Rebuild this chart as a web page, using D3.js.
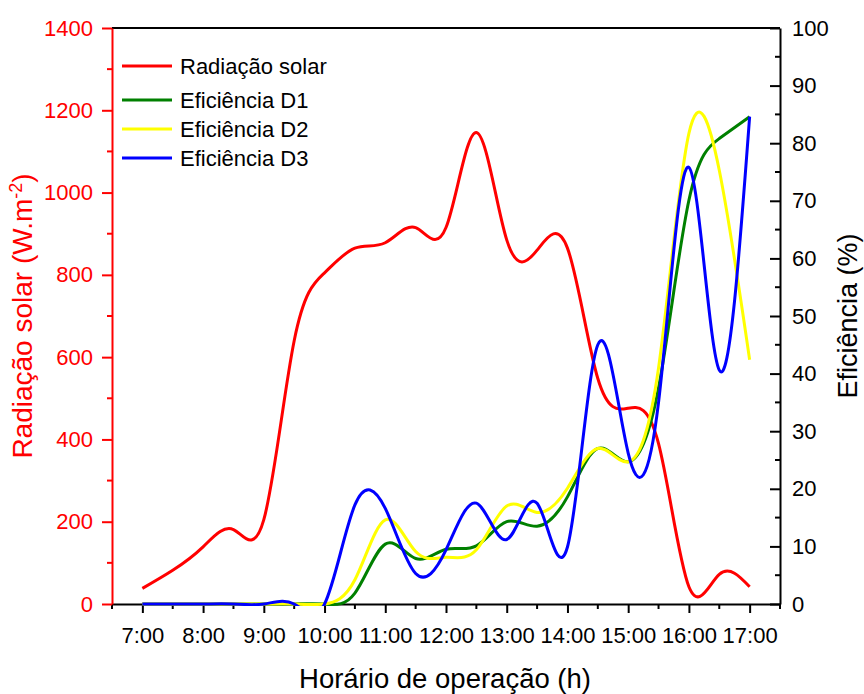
<!DOCTYPE html>
<html>
<head>
<meta charset="utf-8">
<script src="https://cdn.jsdelivr.net/npm/d3@7"></script>
<style>
  html, body { margin: 0; padding: 0; background: #fff; }
  svg { display: block; font-family: "Liberation Sans", Arial, sans-serif; }
</style>
</head>
<body>
<svg id="chart" width="864" height="694"></svg>
<script>
// Sampling times (hours) and their labels
const hours = [7, 7.5, 8, 8.5, 9, 9.5, 10, 10.5, 11, 11.5, 12, 12.5, 13, 13.5, 14, 14.5, 15, 15.5, 16, 16.5, 17];
const hourTicks = [7, 8, 9, 10, 11, 12, 13, 14, 15, 16, 17];
const hourTickLabels = ["7:00", "8:00", "9:00", "10:00", "11:00", "12:00", "13:00", "14:00", "15:00", "16:00", "17:00"];

// Solar radiation (W.m-2)
const radiacao = [38, 82, 139, 181, 205, 640, 805, 865, 878, 915, 915, 1146, 885, 860, 865, 548, 476, 390, 42, 72, 42];

// Efficiencies (%)
const eficienciaD1 = [0, 0, 0, 0, 0, 0, 0, 1.9, 10.4, 7.9, 9.5, 10.1, 14.3, 13.5, 18.6, 27.0, 24.7, 37.5, 70.1, 80.8, 84.6];
const eficienciaD2 = [0, 0, 0, 0, 0, 0, 0, 4.2, 14.6, 9.1, 8.1, 9.4, 17.0, 15.9, 20.1, 27.0, 24.7, 41.0, 81.7, 75.3, 42.4];
const eficienciaD3 = [0, 0, 0, 0, 0, 0, 0, 17.2, 16.6, 5.3, 9.4, 17.5, 11.2, 17.5, 9.9, 45.0, 26.2, 35.0, 75.8, 40.6, 84.6];

const leftTicks = [0, 200, 400, 600, 800, 1000, 1200, 1400];
const rightTicks = [0, 10, 20, 30, 40, 50, 60, 70, 80, 90, 100];

const svg = d3.select("#chart");
const plot = { left: 112, right: 780, top: 28, bottom: 604 };

const x = d3.scaleLinear().domain([6.5, 17.5]).range([plot.left, plot.right]);
const yL = d3.scaleLinear().domain([0, 1400]).range([plot.bottom, plot.top]);
const yR = d3.scaleLinear().domain([0, 100]).range([plot.bottom, plot.top]);

const RED = "#ff0000";
const FONT = "Liberation Sans, Arial, sans-serif";

// Clip region for the data lines
svg.append("defs").append("clipPath").attr("id", "plotclip")
  .append("rect")
  .attr("x", plot.left).attr("y", plot.top)
  .attr("width", plot.right - plot.left)
  .attr("height", plot.bottom - plot.top + 2);

// Frame: top line in black
svg.append("line").attr("x1", plot.left).attr("x2", plot.right)
  .attr("y1", plot.top).attr("y2", plot.top)
  .attr("stroke", "#000").attr("stroke-width", 2);

// Bottom axis
const xAxis = d3.axisBottom(x)
  .tickValues(hourTicks)
  .tickFormat((d, i) => hourTickLabels[i])
  .tickSizeInner(9).tickSizeOuter(0).tickPadding(14);
const gx = svg.append("g").attr("transform", `translate(0,${plot.bottom})`).call(xAxis);
gx.select(".domain").attr("stroke", "#000").attr("stroke-width", 2);
gx.selectAll(".tick line").attr("stroke", "#000").attr("stroke-width", 2);
gx.selectAll(".tick text").attr("font-size", 22).attr("fill", "#000").attr("font-family", FONT);
const xMinor = d3.range(6.5, 17.6, 1);
svg.append("g").selectAll("line").data(xMinor).join("line")
  .attr("x1", d => x(d)).attr("x2", d => x(d))
  .attr("y1", plot.bottom).attr("y2", plot.bottom + 5)
  .attr("stroke", "#000").attr("stroke-width", 2);

// Left axis (red)
const yLAxis = d3.axisLeft(yL).tickValues(leftTicks).tickFormat(d3.format("d"))
  .tickSizeInner(10).tickSizeOuter(0).tickPadding(9);
const gl = svg.append("g").attr("transform", `translate(${plot.left},0)`).call(yLAxis);
gl.select(".domain").attr("stroke", RED).attr("stroke-width", 2);
gl.selectAll(".tick line").attr("stroke", RED).attr("stroke-width", 2);
gl.selectAll(".tick text").attr("font-size", 22).attr("fill", RED).attr("font-family", FONT);
svg.append("g").selectAll("line").data(d3.range(100, 1400, 200)).join("line")
  .attr("x1", plot.left - 5).attr("x2", plot.left)
  .attr("y1", d => yL(d)).attr("y2", d => yL(d))
  .attr("stroke", RED).attr("stroke-width", 2);

// Right axis (black, ticks pointing inward)
const yRAxis = d3.axisRight(yR).tickValues(rightTicks)
  .tickSizeInner(-10).tickSizeOuter(0).tickPadding(12);
const gr = svg.append("g").attr("transform", `translate(${plot.right},0)`).call(yRAxis);
gr.select(".domain").attr("stroke", "#000").attr("stroke-width", 2);
gr.selectAll(".tick line").attr("stroke", "#000").attr("stroke-width", 2);
gr.selectAll(".tick text").attr("font-size", 22).attr("fill", "#000").attr("font-family", FONT);
svg.append("g").selectAll("line").data(d3.range(5, 100, 10)).join("line")
  .attr("x1", plot.right - 5).attr("x2", plot.right)
  .attr("y1", d => yR(d)).attr("y2", d => yR(d))
  .attr("stroke", "#000").attr("stroke-width", 2);

// Data lines (natural cubic spline through the samples)
const series = [
  { name: "Radiação solar", values: radiacao, scale: yL, color: RED },
  { name: "Eficiência D1", values: eficienciaD1, scale: yR, color: "#008000" },
  { name: "Eficiência D2", values: eficienciaD2, scale: yR, color: "#ffff00" },
  { name: "Eficiência D3", values: eficienciaD3, scale: yR, color: "#0000ff" }
];

const lines = svg.append("g").attr("clip-path", "url(#plotclip)");
series.forEach(s => {
  const gen = d3.line()
    .x((d, i) => x(hours[i]))
    .y(d => s.scale(d))
    .curve(d3.curveNatural);
  lines.append("path")
    .attr("d", gen(s.values))
    .attr("fill", "none")
    .attr("stroke", s.color)
    .attr("stroke-width", 3)
    .attr("stroke-linejoin", "round");
});

// Legend
const legendRows = [66, 100, 129, 158];
const legend = svg.append("g");
series.forEach((s, i) => {
  legend.append("line")
    .attr("x1", 122).attr("x2", 172)
    .attr("y1", legendRows[i]).attr("y2", legendRows[i])
    .attr("stroke", s.color).attr("stroke-width", 3);
  legend.append("text")
    .attr("x", 180).attr("y", legendRows[i] + 8)
    .attr("font-size", 22).attr("fill", "#000")
    .text(s.name);
});

// Axis titles
svg.append("text")
  .attr("x", 445).attr("y", 688)
  .attr("text-anchor", "middle").attr("font-size", 27.5).attr("fill", "#000")
  .text("Horário de operação (h)");

const lt = svg.append("text")
  .attr("transform", "translate(32,316) rotate(-90)")
  .attr("text-anchor", "middle").attr("font-size", 28).attr("fill", RED);
lt.append("tspan").text("Radiação solar (W.m");
lt.append("tspan").attr("font-size", 18).attr("dy", -10).text("-2");
lt.append("tspan").attr("dy", 10).text(")");

svg.append("text")
  .attr("transform", "translate(857,316) rotate(-90)")
  .attr("text-anchor", "middle").attr("font-size", 27).attr("fill", "#000")
  .text("Eficiência (%)");
</script>
</body>
</html>
